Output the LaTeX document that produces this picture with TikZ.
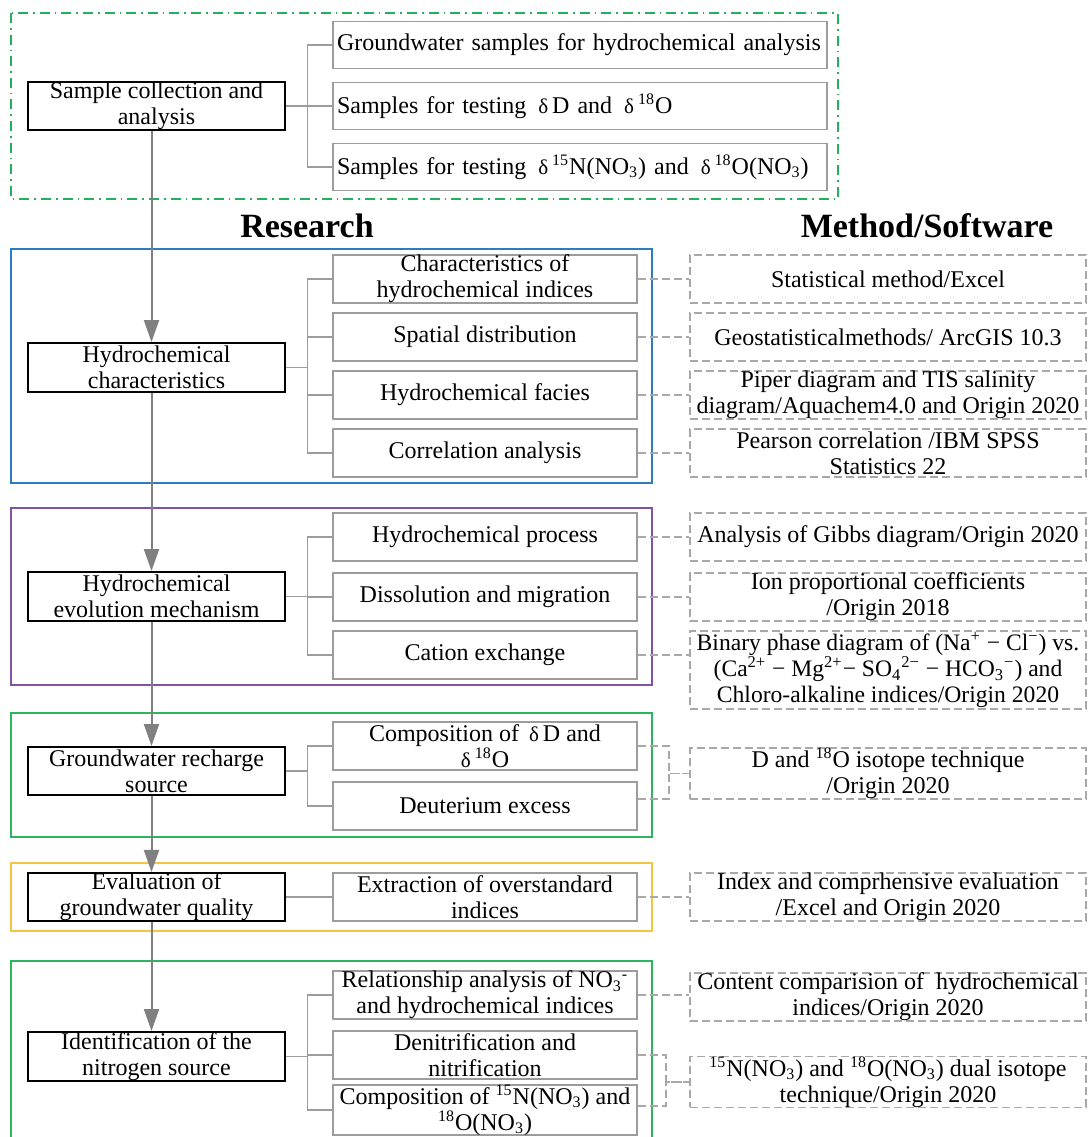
\documentclass[tikz,border=0pt]{standalone}
\usepackage{fontspec}
\setmainfont{Liberation Serif}
\usetikzlibrary{arrows.meta}
\definecolor{subgray}{HTML}{9C9C9C}
\definecolor{metgray}{HTML}{A8A8A8}
\definecolor{arrowgray}{HTML}{808080}
\definecolor{fblue}{HTML}{2E7BC0}
\definecolor{fpurple}{HTML}{8052AE}
\definecolor{fgreen}{HTML}{2DB45E}
\definecolor{fyellow}{HTML}{F6C443}
\definecolor{ftop}{HTML}{22B05C}
\newcommand{\dlt}{{\fontsize{10.5}{10}\selectfont δ}}
\tikzset{
  mainbox/.style={draw=black, line width=1pt, fill=white, minimum width=128.5pt, minimum height=24pt, inner sep=0pt, align=center},
  subbox/.style={draw=subgray, line width=0.75pt, fill=white, minimum width=152pt, minimum height=24pt, inner sep=0pt, align=center},
  topsub/.style={draw=subgray, line width=0.75pt, fill=white, text width=243pt, inner xsep=2pt, inner ysep=0pt, minimum height=23.5pt, align=left},
  metbox/.style={draw=metgray, line width=0.75pt, dash pattern=on 4pt off 2pt, minimum width=198pt, minimum height=24pt, inner sep=0pt, align=center},
  conn/.style={draw=subgray, line width=0.75pt},
  dconn/.style={draw=metgray, line width=0.75pt, dash pattern=on 4pt off 2pt},
  flow/.style={draw=arrowgray, line width=1pt, -{Triangle[width=7.5pt,length=11pt]}},
  frame/.style={line width=0.9pt},
  header/.style={font=\fontsize{17}{20}\selectfont\bfseries, inner sep=0pt}
}
\begin{document}
\begin{tikzpicture}[x=0.5pt,y=-0.5pt,font=\fontsize{12}{13}\selectfont]
\clip (0,0) rectangle (1088,1137);
\fill[white] (0,0) rectangle (1088,1137);

% group frames
\draw[frame, draw=ftop, dash pattern=on 5pt off 2.5pt on 0.8pt off 2.5pt] (11,13) rectangle (838,199);
\draw[frame, draw=fblue] (11,249) rectangle (652,483);
\draw[frame, draw=fpurple] (11,508) rectangle (652,685);
\draw[frame, draw=fgreen] (11,713) rectangle (652,837);
\draw[frame, draw=fyellow] (11,863) rectangle (652,931);
\draw[frame, draw=fgreen] (11,961) rectangle (652,1160);

% headers
\node[header] (hR) at (307,226) {Research};
\node[header] (hM) at (927,226) {Method/Software};

% top group
\node[mainbox, minimum height=24pt] (m1) at (156.5,106) {Sample collection and\\analysis};
\node[topsub] (s11) at (580,45) {\mbox{Groundwater samples for hydrochemical analysis}};
\node[topsub] (s12) at (580,106) {\mbox{Samples for testing \,\dlt\,D and \,\dlt\,\textsuperscript{18}O}};
\node[topsub] (s13) at (580,167) {\mbox{Samples for testing \,\dlt\,\textsuperscript{15}N(NO\textsubscript{3}) and \,\dlt\,\textsuperscript{18}O(NO\textsubscript{3})}};

% hydrochemical characteristics
\node[mainbox, minimum height=24.5pt] (m2) at (156.5,367.5) {Hydrochemical\\characteristics};
\node[subbox] (s21) at (485,279) {Characteristics of\\hydrochemical indices};
\node[subbox] (s22) at (485,337) {Spatial distribution};
\node[subbox] (s23) at (485,395) {Hydrochemical facies};
\node[subbox] (s24) at (485,453) {Correlation analysis};
\node[metbox] (t21) at (888,279) {Statistical method/Excel};
\node[metbox] (t22) at (888,337) {Geostatisticalmethods/ ArcGIS 10.3};
\node[metbox] (t23) at (888,395) {Piper diagram and TIS salinity\\diagram/Aquachem4.0 and Origin 2020};
\node[metbox] (t24) at (888,453) {Pearson correlation /IBM SPSS\\Statistics 22};

% evolution mechanism
\node[mainbox, minimum height=24.5pt] (m3) at (156.5,596.5) {Hydrochemical\\evolution mechanism};
\node[subbox] (s31) at (485,537) {Hydrochemical process};
\node[subbox] (s32) at (485,597) {Dissolution and migration};
\node[subbox] (s33) at (485,655) {Cation exchange};
\node[metbox] (t31) at (888,537) {Analysis of Gibbs diagram/Origin 2020};
\node[metbox] (t32) at (888,597) {Ion proportional coefficients\\/Origin 2018};
\node[metbox, minimum height=39pt, font=\fontsize{11.8}{13}\selectfont] (t33) at (888,670) {Binary phase diagram of (Na\textsuperscript{+} − Cl\textsuperscript{−}) vs.\\(Ca\textsuperscript{2+} − Mg\textsuperscript{2+}− SO\textsubscript{4}\textsuperscript{2−} − HCO\textsubscript{3}\textsuperscript{−}) and\\Chloro-alkaline indices/Origin 2020};

% recharge source
\node[mainbox] (m4) at (156.5,771) {Groundwater recharge\\source};
\node[subbox] (s41) at (485,746) {Composition of \,\dlt\,D and\\\dlt\,\textsuperscript{18}O};
\node[subbox] (s42) at (485,806) {Deuterium excess};
\node[metbox, minimum height=23.5pt] (t41) at (888,773.5) {D and \textsuperscript{18}O isotope technique\\/Origin 2020};

% groundwater quality
\node[mainbox] (m5) at (156.5,897) {Evaluation of\\groundwater quality};
\node[subbox] (s51) at (485,897) {Extraction of overstandard\\indices};
\node[metbox] (t51) at (888,897) {Index and comprhensive evaluation\\/Excel and Origin 2020};

% nitrogen source
\node[mainbox, minimum height=24.5pt] (m6) at (156.5,1056.5) {Identification of the\\nitrogen source};
\node[subbox] (s61) at (485,995) {Relationship analysis of NO\textsubscript{3}\textsuperscript{-}\\and hydrochemical indices};
\node[subbox] (s62) at (485,1055) {Denitrification and\\nitrification};
\node[subbox] (s63) at (485,1110) {Composition of \textsuperscript{15}N(NO\textsubscript{3}) and\\\textsuperscript{18}O(NO\textsubscript{3})};
\node[metbox] (t61) at (888,997) {Content comparision of \ hydrochemical\\indices/Origin 2020};
\node[metbox] (t62) at (888,1082) {\textsuperscript{15}N(NO\textsubscript{3}) and \textsuperscript{18}O(NO\textsubscript{3}) dual isotope\\technique/Origin 2020};

% bracket connectors (main -> sub)
\foreach \m/\s in {m1/s11,m1/s12,m1/s13,m2/s21,m2/s22,m2/s23,m2/s24,m3/s31,m3/s32,m3/s33,m4/s41,m4/s42,m5/s51,m6/s61,m6/s62,m6/s63}
  \draw[conn] (\s.west) -- ++(-25,0) |- (\m.east);

% dashed connectors (sub -> method)
\foreach \s/\t in {s21/t21,s22/t22,s23/t23,s24/t24,s31/t31,s32/t32,s33/t33,s51/t51,s61/t61}
  \draw[dconn] (\s.east) -- (\s.east -| \t.west);
\draw[dconn] (s41.east) -- ++(31,0) |- (t41.west);
\draw[dconn] ([yshift=3.5pt]s42.east) -- ++(31,0) |- (t41.west);
\draw[dconn] (s62.east) -- ++(28,0) |- (t62.west);
\draw[dconn] ([yshift=2pt]s63.east) -- ++(28,0) |- (t62.west);

% main flow
\draw[flow] ([xshift=-2.5pt]m1.south) -- ([xshift=-2.5pt]m2.north);
\draw[flow] ([xshift=-2.5pt]m2.south) -- ([xshift=-2.5pt]m3.north);
\draw[flow] ([xshift=-2.5pt]m3.south) -- ([xshift=-2.5pt]m4.north);
\draw[flow] ([xshift=-2.5pt]m4.south) -- ([xshift=-2.5pt]m5.north);
\draw[flow] ([xshift=-2.5pt]m5.south) -- ([xshift=-2.5pt]m6.north);
\end{tikzpicture}
\end{document}
